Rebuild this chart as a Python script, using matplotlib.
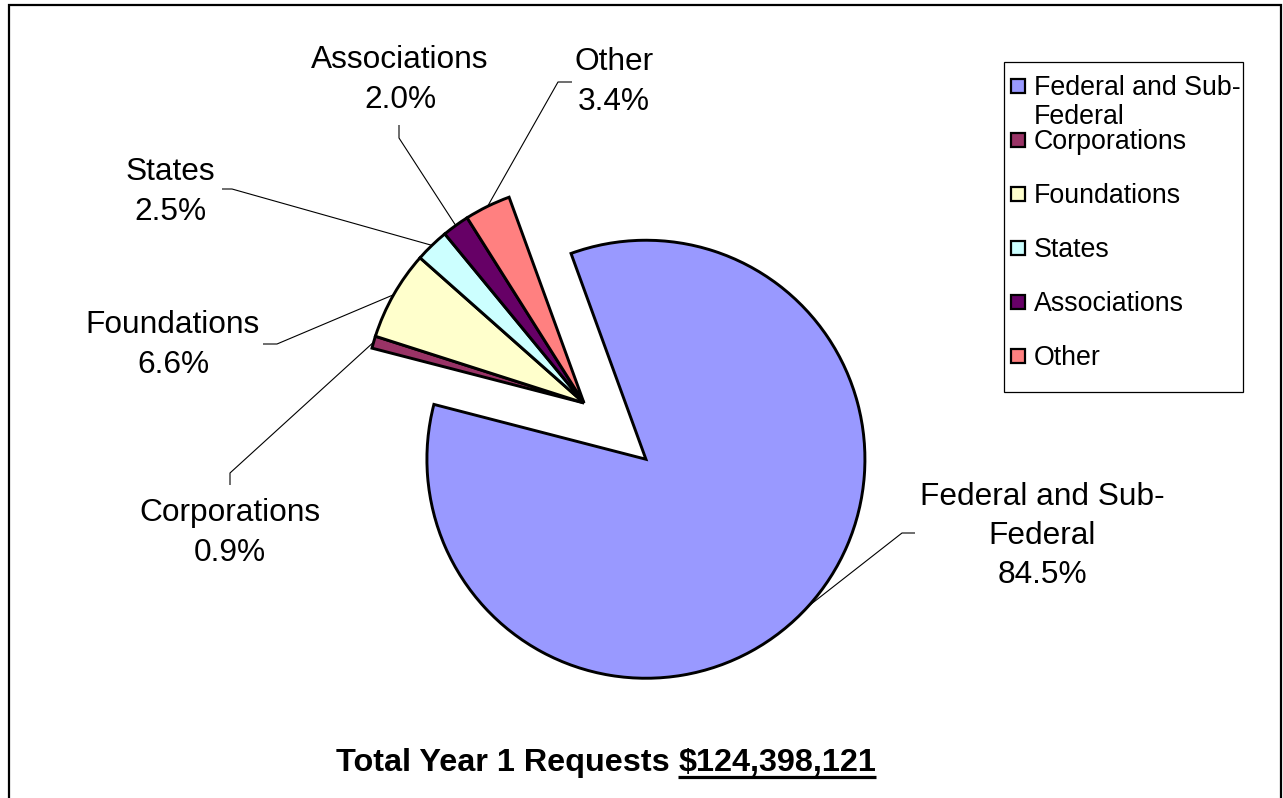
import numpy as np
import matplotlib
matplotlib.use("Agg")
import matplotlib.pyplot as plt
from matplotlib.patches import Rectangle

# ---------------- data ----------------
categories = ["Federal and Sub-\nFederal", "Corporations", "Foundations",
              "States", "Associations", "Other"]
shares = [84.5, 0.9, 6.6, 2.5, 2.0, 3.4]
colors = ["#9999FF", "#993366", "#FFFFCC", "#CCFFFF", "#660066", "#FF8080"]
title_text = "Total Year 1 Requests "
title_amount = "$124,398,121"

# ---------------- layout ----------------
W, H = 1283, 798
FONT = "Liberation Sans"
plt.rcParams["font.family"] = [FONT, "DejaVu Sans"]

fig = plt.figure(figsize=(W / 100, H / 100), dpi=100)
ax = fig.add_axes([0, 0, 1, 1])


def P(x, y):
    """pixel (top-left origin) -> data coords"""
    return (x, H - y)


radius = 219
explode = [0.382 * radius, 0, 0, 0, 0, 0]
wedges, _ = ax.pie(shares, colors=colors, startangle=110, counterclock=False,
                   radius=radius, center=P(584, 403), explode=explode,
                   wedgeprops=dict(edgecolor="black", linewidth=2.1),
                   frame=True)
ax.set_aspect("auto")
ax.set_xlim(0, W)
ax.set_ylim(0, H)
ax.axis("off")

# data labels: (text center, elbow point, attach point) in pixels
label_layout = [
    ((1042, 536), (915, 533), (902, 533)),
    ((230, 533), (230, 485), (230, 473)),
    ((173, 345), (263, 344), (277, 344)),
    ((170, 192), (222, 189), (232, 189)),
    ((400, 80), (399, 125), (399, 138)),
    ((614, 82), (572, 82), (558, 82)),
]

for w, name, share, (tpos, p1, p2) in zip(wedges, categories, shares, label_layout):
    th = np.deg2rad((w.theta1 + w.theta2) / 2)
    cx, cy = w.center
    anchor = (cx + w.r * np.cos(th), cy + w.r * np.sin(th))
    a, b = P(*p1), P(*p2)
    ax.plot([a[0], b[0], anchor[0]], [a[1], b[1], anchor[1]],
            color="black", lw=0.8, solid_capstyle="butt")
    ax.text(*P(*tpos), f"{name}\n{share:.1f}%", fontsize=22.8, ha="center",
            va="center", linespacing=1.4, family=FONT)

# ---------------- legend (manual, Excel style) ----------------
ax.add_patch(Rectangle(P(1004, 392), 239, 330, facecolor="white",
                       edgecolor="black", lw=0.9))
row_y = [86, 140, 194, 248, 302, 356]
for name, col, y in zip(categories, colors, row_y):
    ax.add_patch(Rectangle(P(1011, y + 7), 14, 14, facecolor=col,
                           edgecolor="black", lw=1.6))
    ax.text(*P(1034, y - 11), name, fontsize=19.3, ha="left", va="top",
            linespacing=1.17, family=FONT)

# ---------------- title with underlined amount ----------------
fig.canvas.draw()
renderer = fig.canvas.get_renderer()
t1 = ax.text(0, 0, title_text, fontsize=23.3, fontweight="bold", ha="left",
             va="baseline", family=FONT)
t2 = ax.text(0, 0, title_amount, fontsize=23.3, fontweight="bold", ha="left",
             va="baseline", family=FONT)
w1 = t1.get_window_extent(renderer).width
w2 = t2.get_window_extent(renderer).width
x0 = 606 - (w1 + w2) / 2
base = P(0, 771)[1]
t1.set_position((x0, base))
t2.set_position((x0 + w1, base))
ax.plot([x0 + w1, x0 + w1 + w2], [P(0, 777)[1]] * 2, color="black", lw=2.3,
        solid_capstyle="butt")

# ---------------- chart area frame ----------------
ax.add_patch(Rectangle((9, -10), 1272, H - 5 + 10, fill=False,
                       edgecolor="black", lw=1.6, clip_on=False))

fig.savefig("out.png", dpi=100)
